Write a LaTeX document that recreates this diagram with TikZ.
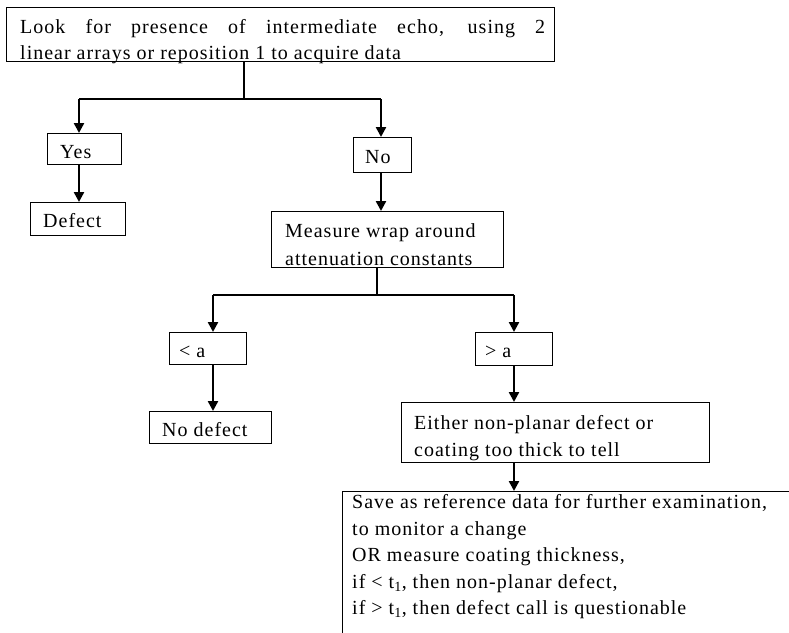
\documentclass[tikz,border=0pt]{standalone}
\usepackage{fontspec}
\setmainfont{Liberation Serif}[LetterSpace=5]
\usetikzlibrary{arrows.meta}
\begin{document}
\begin{tikzpicture}[x=1pt,y=-1pt,
  box/.style={draw, line width=1pt, inner sep=0pt, anchor=north west},
  txt/.style={anchor=base west, inner sep=0pt, font=\fontsize{20}{26}\selectfont},
  arr/.style={line width=2.4pt, -{Triangle[length=10pt,width=10pt]}},
  hline/.style={line width=1.6pt},
  stem/.style={line width=1.2pt}]
\useasboundingbox (0,0) rectangle (789,632);
% boxes
\node[box, minimum width=548pt, minimum height=54pt] (top) at (6,7) {};
\node[box, minimum width=74pt, minimum height=31pt] (yes) at (47,133) {};
\node[box, minimum width=95pt, minimum height=33pt] (defect) at (30,202) {};
\node[box, minimum width=58pt, minimum height=35pt] (no) at (353,137) {};
\node[box, minimum width=232pt, minimum height=56pt] (measure) at (271,211) {};
\node[box, minimum width=77pt, minimum height=32pt] (lta) at (169,332) {};
\node[box, minimum width=122pt, minimum height=32pt] (nodefect) at (149,411) {};
\node[box, minimum width=77pt, minimum height=33pt] (gta) at (475,332) {};
\node[box, minimum width=308pt, minimum height=60pt] (either) at (401,402) {};
\node[box, minimum width=470pt, minimum height=160pt] (save) at (342,491) {};
% texts
\node[txt] (t1a) at (20,33) {\makebox[525pt][s]{Look for presence of intermediate echo, using 2}};
\node[txt] (t1b) at (20,59) {linear arrays or reposition 1 to acquire data};
\node[txt] (tyes) at (60,158) {Yes};
\node[txt] (tdefect) at (43,227) {Defect};
\node[txt] (tno) at (365,163) {No};
\node[txt] (tm1) at (285,237) {Measure wrap around};
\node[txt] (tm2) at (285,265) {attenuation constants};
\node[txt] (tlta) at (179,357) {< a};
\node[txt] (tnod) at (162,436) {No defect};
\node[txt] (tgta) at (485,357) {> a};
\node[txt] (te1) at (414,429) {Either non-planar defect or};
\node[txt] (te2) at (414,456) {coating too thick to tell};
\node[txt] (ts1) at (352,508) {Save as reference data for further examination,};
\node[txt] (ts2) at (352,535) {to monitor a change};
\node[txt] (ts3) at (352,561) {OR measure coating thickness,};
\node[txt] (ts4) at (352,588) {if < t\textsubscript{1}, then non-planar defect,};
\node[txt] (ts5) at (352,614) {if > t\textsubscript{1}, then defect call is questionable};
% junctions
\coordinate (j1) at (244,99);
\coordinate (j1l) at (79,99);
\coordinate (j1r) at (381,99);
\coordinate (j2) at (377,295);
\coordinate (j2l) at (213,295);
\coordinate (j2r) at (514,295);
\coordinate (j3) at (514,462);
% connectors
\draw[stem] (top.south -| j1) -- (j1);
\draw[hline] (j1l) -- (j1r);
\draw[arr] (j1l) -- (j1l |- yes.north);
\draw[arr] (yes.south -| j1l) -- (defect.north -| j1l);
\draw[arr] (j1r) -- (j1r |- no.north);
\draw[arr] (no.south -| j1r) -- (measure.north -| j1r);
\draw[stem] (measure.south -| j2) -- (j2);
\draw[hline] (j2l) -- (j2r);
\draw[arr] (j2l) -- (j2l |- lta.north);
\draw[arr] (lta.south -| j2l) -- (nodefect.north -| j2l);
\draw[arr] (j2r) -- (j2r |- gta.north);
\draw[arr] (gta.south -| j2r) -- (either.north -| j2r);
\draw[arr] (either.south -| j3) -- (save.north -| j3);
\end{tikzpicture}
\end{document}
